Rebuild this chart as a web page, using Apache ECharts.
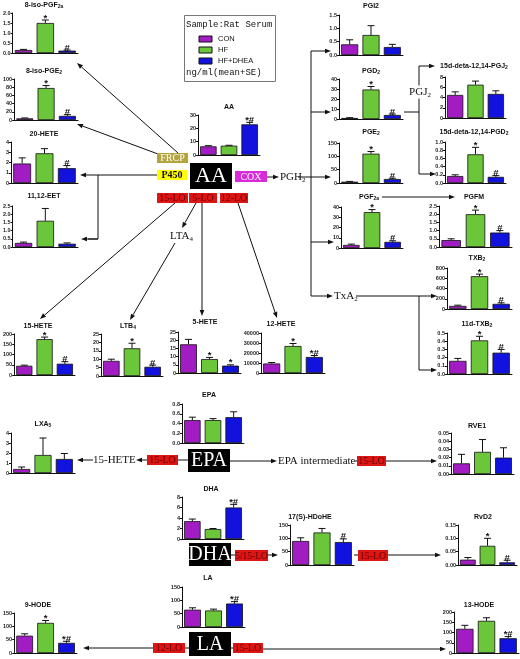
<!DOCTYPE html>
<html><head><meta charset="utf-8">
<script src="https://cdn.jsdelivr.net/npm/echarts@6/dist/echarts.min.js"></script>
<style>html,body{margin:0;padding:0;background:#fff}#c{width:520px;height:659px}</style>
</head><body><div id="c"></div>
<script>
// ---------- DATA ----------
const groups = ['CON', 'HF', 'HF+DHEA'];

const iso8PGF2a_mean = [0.15, 1.50, 0.12], iso8PGF2a_se = [0.03, 0.15, 0.03], iso8PGF2a_sig = ['', '*', '#'];
const iso8PGE2_mean = [4, 78, 10], iso8PGE2_se = [1, 6, 3], iso8PGE2_sig = ['', '*', '#'];
const HETE20_mean = [1.9, 2.9, 1.45], HETE20_se = [0.55, 0.45, 0.25], HETE20_sig = ['', '', '#'];
const EET1112_mean = [0.25, 1.6, 0.2], EET1112_se = [0.05, 0.75, 0.05], EET1112_sig = ['', '', ''];
const AA_mean = [6.5, 7.0, 23], AA_se = [0.5, 0.3, 1.5], AA_sig = ['', '', '*#'];
const PGI2_mean = [0.4, 0.75, 0.3], PGI2_se = [0.17, 0.35, 0.1], PGI2_sig = ['', '', ''];
const PGD2_mean = [1.0, 29.5, 4.0], PGD2_se = [0.3, 3.0, 1.0], PGD2_sig = ['', '*', '#'];
const PGE2_mean = [5, 110, 15], PGE2_se = [1, 8, 3], PGE2_sig = ['', '*', '#'];
const PGF2a_mean = [3, 35, 6], PGF2a_se = [0.8, 2.5, 1], PGF2a_sig = ['', '*', '#'];
const dPGJ2_mean = [4.5, 6.5, 4.7], dPGJ2_se = [0.6, 0.7, 0.6], dPGJ2_sig = ['', '', ''];
const dPGD2_mean = [0.17, 0.70, 0.15], dPGD2_se = [0.03, 0.17, 0.03], dPGD2_sig = ['', '*', '#'];
const PGFM_mean = [0.42, 2.0, 0.88], PGFM_se = [0.08, 0.25, 0.12], PGFM_sig = ['', '*', '#'];
const TXB2_mean = [60, 640, 100], TXB2_se = [15, 40, 20], TXB2_sig = ['', '*', '#'];
const dTXB2_mean = [0.16, 0.41, 0.26], dTXB2_se = [0.03, 0.05, 0.04], dTXB2_sig = ['', '*', '#'];
const HETE15_mean = [45, 175, 55], HETE15_se = [3, 10, 10], HETE15_sig = ['', '*', '#'];
const LTB4_mean = [9, 16.5, 5.5], LTB4_se = [1, 3, 1], LTB4_sig = ['', '*', '#'];
const HETE5_mean = [17.5, 8.5, 4.5], HETE5_se = [3, 1, 0.5], HETE5_sig = ['', '*', '*'];
const HETE12_mean = [9500, 27000, 16000], HETE12_se = [1000, 2500, 1500], HETE12_sig = ['', '*', '*#'];
const EPA_mean = [0.47, 0.47, 0.53], EPA_se = [0.06, 0.03, 0.11], EPA_sig = ['', '', ''];
const LXA5_mean = [0.4, 1.8, 1.4], LXA5_se = [0.2, 1.7, 0.55], LXA5_sig = ['', '', ''];
const RVE1_mean = [0.013, 0.027, 0.020], RVE1_se = [0.011, 0.015, 0.012], RVE1_sig = ['', '', ''];
const DHA_mean = [3.4, 1.9, 6.0], DHA_se = [0.4, 0.1, 0.6], DHA_sig = ['', '', '*#'];
const HDoHE_mean = [90, 122, 86], HDoHE_se = [12, 15, 12], HDoHE_sig = ['', '', '#'];
const RvD2_mean = [0.020, 0.072, 0.010], RvD2_se = [0.008, 0.028, 0.008], RvD2_sig = ['', '*', '#'];
const LA_mean = [65, 62, 88], LA_se = [7, 5, 7], LA_sig = ['', '', '*#'];
const HODE9_mean = [65, 113, 38], HODE9_se = [7, 9, 6], HODE9_sig = ['', '*', '*#'];
const HODE13_mean = [118, 157, 72], HODE13_se = [17, 15, 8], HODE13_sig = ['', '', '*#'];

// ---------- LAYOUT / STYLE ----------
const colors = ['#a21cc4', '#6cc63a', '#1212de'];
const SANS = '"Liberation Sans", Arial, sans-serif';
const SERIF = '"Liberation Serif", "Times New Roman", serif';
const MONO = '"Liberation Mono", "Courier New", monospace';

// box: [axisLeft, axisRight, topY, zeroY]; t: [titleCenterX, titleY]; axis: [max, step, decimals]
const panels = [
  {name: '8-iso-PGF{s|2a}', m: iso8PGF2a_mean, e: iso8PGF2a_se, s: iso8PGF2a_sig, axis: [2, 0.5, 1], box: [11, 78, 13, 53], t: [44, 5]},
  {name: '8-iso-PGE{s|2}', m: iso8PGE2_mean, e: iso8PGE2_se, s: iso8PGE2_sig, axis: [100, 20, 0], box: [11, 78, 79, 120], t: [44, 71]},
  {name: '20-HETE', m: HETE20_mean, e: HETE20_se, s: HETE20_sig, axis: [4, 1, 0], box: [11, 78, 142, 183], t: [44, 134]},
  {name: '11,12-EET', m: EET1112_mean, e: EET1112_se, s: EET1112_sig, axis: [2.5, 0.5, 1], box: [11, 78, 206, 247], t: [44, 196]},
  {name: 'AA', m: AA_mean, e: AA_se, s: AA_sig, axis: [30, 10, 0], box: [198, 260, 115, 155], t: [229, 107]},
  {name: 'PGI2', m: PGI2_mean, e: PGI2_se, s: PGI2_sig, axis: [1.5, 0.5, 1], box: [339, 403, 15, 55], t: [371, 6]},
  {name: 'PGD{s|2}', m: PGD2_mean, e: PGD2_se, s: PGD2_sig, axis: [40, 10, 0], box: [339, 403, 79, 119], t: [371, 71]},
  {name: 'PGE{s|2}', m: PGE2_mean, e: PGE2_se, s: PGE2_sig, axis: [150, 50, 0], box: [339, 403, 143, 183], t: [371, 132]},
  {name: 'PGF{s|2a}', m: PGF2a_mean, e: PGF2a_se, s: PGF2a_sig, axis: [40, 10, 0], box: [341, 403, 207, 248], t: [369, 197]},
  {name: '15d-deta-12,14-PGJ{s|2}', m: dPGJ2_mean, e: dPGJ2_se, s: dPGJ2_sig, axis: [8, 2, 0], box: [445, 506, 77, 118], t: [474, 66]},
  {name: '15d-deta-12,14-PGD{s|2}', m: dPGD2_mean, e: dPGD2_se, s: dPGD2_sig, axis: [1.0, 0.2, 1], box: [445, 506, 142, 183], t: [474, 132]},
  {name: 'PGFM', m: PGFM_mean, e: PGFM_se, s: PGFM_sig, axis: [2.5, 0.5, 1], box: [439, 512, 206, 247], t: [474, 197]},
  {name: 'TXB{s|2}', m: TXB2_mean, e: TXB2_se, s: TXB2_sig, axis: [800, 200, 0], box: [447, 512, 268, 309], t: [477, 258]},
  {name: '11d-TXB{s|2}', m: dTXB2_mean, e: dTXB2_se, s: dTXB2_sig, axis: [0.5, 0.1, 1], box: [447, 512, 333, 374], t: [477, 324]},
  {name: '15-HETE', m: HETE15_mean, e: HETE15_se, s: HETE15_sig, axis: [200, 50, 0], box: [12, 75, 334, 375], t: [38, 326]},
  {name: 'LTB{s|4}', m: LTB4_mean, e: LTB4_se, s: LTB4_sig, axis: [25, 5, 0], box: [101, 163, 334, 376], t: [128, 326]},
  {name: '5-HETE', m: HETE5_mean, e: HETE5_se, s: HETE5_sig, axis: [25, 5, 0], box: [178, 241, 332, 373], t: [205, 322]},
  {name: '12-HETE', m: HETE12_mean, e: HETE12_se, s: HETE12_sig, axis: [40000, 10000, 0], box: [261, 325, 333, 373], t: [281, 324]},
  {name: 'EPA', m: EPA_mean, e: EPA_se, s: EPA_sig, axis: [0.8, 0.2, 1], box: [182, 244, 404, 443], t: [209, 395]},
  {name: 'LXA{s|5}', m: LXA5_mean, e: LXA5_se, s: LXA5_sig, axis: [4, 1, 0], box: [11, 75, 433, 473], t: [43, 424]},
  {name: 'RVE1', m: RVE1_mean, e: RVE1_se, s: RVE1_sig, axis: [0.05, 0.01, 2], box: [451, 514, 433, 474], t: [477, 426]},
  {name: 'DHA', m: DHA_mean, e: DHA_se, s: DHA_sig, axis: [8, 2, 0], box: [182, 244, 497, 539], t: [211, 489]},
  {name: '17(S)-HDoHE', m: HDoHE_mean, e: HDoHE_se, s: HDoHE_sig, axis: [150, 50, 0], box: [290, 354, 525, 565], t: [310, 517]},
  {name: 'RvD2', m: RvD2_mean, e: RvD2_se, s: RvD2_sig, axis: [0.15, 0.05, 2], box: [458, 517, 525, 565], t: [483, 517]},
  {name: 'LA', m: LA_mean, e: LA_se, s: LA_sig, axis: [150, 50, 0], box: [182, 245, 587, 627], t: [208, 578]},
  {name: '9-HODE', m: HODE9_mean, e: HODE9_se, s: HODE9_sig, axis: [150, 50, 0], box: [13, 77, 613, 653], t: [38, 605]},
  {name: '13-HODE', m: HODE13_mean, e: HODE13_se, s: HODE13_sig, axis: [200, 50, 0], box: [454, 519, 612, 653], t: [479, 605]}
];

const grid = [], xAxis = [], yAxis = [], series = [], elements = [];
const SUB = {s: {fontSize: 5, fontWeight: 'bold', fontFamily: SANS, fill: '#111', padding: [4, 0, 0, 0]}};

panels.forEach((p, i) => {
  const [x0, x1, yt, yb] = p.box;
  const [mx, step, dec] = p.axis;
  grid.push({left: x0, top: yt, width: x1 - x0, height: yb - yt});
  xAxis.push({
    type: 'category', gridIndex: i, data: groups,
    axisLine: {lineStyle: {color: '#111', width: 1}},
    axisTick: {length: 2, alignWithLabel: true, lineStyle: {color: '#111'}},
    axisLabel: {show: false}
  });
  yAxis.push({
    type: 'value', gridIndex: i, min: 0, max: mx, interval: step,
    axisLine: {show: true, lineStyle: {color: '#111', width: 1}},
    axisTick: {show: true, length: 2, lineStyle: {color: '#111'}},
    splitLine: {show: false},
    axisLabel: {fontSize: 5.5, margin: 2, color: '#222', fontWeight: 'bold', fontFamily: SANS,
      formatter: v => v.toFixed(dec)}
  });
  series.push({
    type: 'bar', xAxisIndex: i, yAxisIndex: i, barWidth: '80%', animation: false, silent: true,
    itemStyle: {borderColor: '#111', borderWidth: 0.8},
    data: p.m.map((v, k) => ({value: v, itemStyle: {color: colors[k]}}))
  });
  series.push({
    type: 'custom', xAxisIndex: i, yAxisIndex: i, animation: false, silent: true, clip: false,
    data: p.m.map((v, k) => [k, v, v + p.e[k]]),
    renderItem: (params, api) => {
      const k = api.value(0);
      const lo = api.coord([k, api.value(1)]);
      const hi = api.coord([k, api.value(2)]);
      const ch = [
        {type: 'line', shape: {x1: lo[0], y1: lo[1], x2: hi[0], y2: hi[1]}, style: {stroke: '#111', lineWidth: 1}},
        {type: 'line', shape: {x1: hi[0] - 3.5, y1: hi[1], x2: hi[0] + 3.5, y2: hi[1]}, style: {stroke: '#111', lineWidth: 1}}
      ];
      const sg = p.s[k];
      if (sg) ch.push({type: 'text', x: hi[0], y: hi[1] + 3,
        style: {text: sg, align: 'center', verticalAlign: 'bottom', fontSize: 9.5, fontWeight: 'bold', fontFamily: SANS, fill: '#111'}});
      return {type: 'group', children: ch};
    }
  });
  elements.push({type: 'text', x: p.t[0], y: p.t[1], silent: true,
    style: {text: p.name, rich: SUB, align: 'center', verticalAlign: 'middle', fontSize: 7, fontWeight: 'bold', fontFamily: SANS, fill: '#111'}});
});

// ---------- diagram helpers ----------
function line(pts) {
  return {type: 'polyline', silent: true, shape: {points: pts}, style: {stroke: '#111', lineWidth: 1, fill: null}};
}
function arrow(x1, y1, x2, y2) {
  const a = Math.atan2(y2 - y1, x2 - x1), L = 6, W = 2.3;
  const bx = x2 - L * Math.cos(a), by = y2 - L * Math.sin(a);
  const px = -Math.sin(a) * W, py = Math.cos(a) * W;
  return [
    {type: 'line', silent: true, shape: {x1, y1, x2: bx, y2: by}, style: {stroke: '#111', lineWidth: 1}},
    {type: 'polygon', silent: true, shape: {points: [[x2, y2], [bx + px, by + py], [bx - px, by - py]]}, style: {fill: '#111'}}
  ];
}
function box(x, y, w, h, fill, text, color, size, bold) {
  return [
    {type: 'rect', silent: true, shape: {x, y, width: w, height: h}, style: {fill}},
    {type: 'text', silent: true, x: x + w / 2, y: y + h / 2 + 0.5,
      style: {text, align: 'center', verticalAlign: 'middle', fontSize: size, fontFamily: SERIF, fontWeight: bold ? 'bold' : 'normal', fill: color}}
  ];
}
function label(x, y, text, align, bg) {
  return {type: 'text', silent: true, x, y, z: 10,
    style: {text, align: align || 'left', verticalAlign: 'middle', fontSize: 11, fontFamily: SERIF, fill: '#111',
      backgroundColor: bg || null,
      rich: {s: {fontSize: 7, fontFamily: SERIF, fill: '#111', padding: [6, 0, 0, 0]}}}};
}
const RED = '#dd1515', REDTXT = '#6a0505';

// ---------- AA hub ----------
elements.push(...arrow(178, 153, 77, 63));
elements.push(...arrow(158, 154, 77, 124));
elements.push(...arrow(157, 175, 80, 175));
elements.push(line([[98, 175], [98, 239], [88, 239]]));
elements.push(...arrow(98, 239, 81, 239));
elements.push(...arrow(175, 203, 40, 319));
elements.push(...arrow(196, 203, 182, 228));
elements.push(...arrow(175, 243, 130, 320));
elements.push(...arrow(202, 203, 202, 316));
elements.push(...arrow(238, 203, 277, 318));
elements.push(...box(157, 153, 31, 10, '#b3a43e', 'FRCP', '#fff', 10));
elements.push(...box(157, 170, 30, 10, '#ffff00', 'P450', '#111', 10, true));
elements.push(...box(190, 163, 42, 26, '#000', 'AA', '#fff', 22));
elements.push(...box(235, 171, 32, 11, '#d92bd9', 'COX', '#fff', 10));
elements.push(...box(157, 193, 31, 10, RED, '15-LO', REDTXT, 10));
elements.push(...box(189, 193, 28, 10, RED, '5-LO', REDTXT, 10));
elements.push(...box(220, 193, 28, 10, RED, '12-LO', REDTXT, 10));
elements.push(label(170, 236, 'LTA{s|4}'));

// COX branch
elements.push(...arrow(267, 177, 279, 177));
elements.push(label(280, 177, 'PGH{s|2}'));
elements.push(line([[298, 177], [311, 177]]));
elements.push(line([[311, 51], [311, 296]]));
elements.push(...arrow(311, 51, 331, 51));
elements.push(...arrow(311, 112, 331, 112));
elements.push(...arrow(311, 177, 331, 177));
elements.push(...arrow(311, 242, 334, 242));
elements.push(...arrow(311, 296, 333, 296));
elements.push(label(334, 296, 'TxA{s|2}'));
elements.push(line([[404, 112], [419, 112]]));
elements.push(line([[419, 66], [419, 174]]));
elements.push(...arrow(419, 66, 435, 66));
elements.push(...arrow(419, 174, 436, 174));
elements.push(label(420, 92, 'PGJ{s|2}', 'center', '#fff'));
elements.push(...arrow(382, 197, 455, 197));
elements.push(...arrow(356, 296, 437, 296));
elements.push(line([[419, 296], [419, 370]]));
elements.push(...arrow(419, 370, 437, 370));

// ---------- EPA ----------
elements.push(line([[178, 460], [188, 460]]));
elements.push(...arrow(147, 460, 136, 460));
elements.push(label(93, 460, '15-HETE'));
elements.push(...arrow(93, 460, 77, 460));
elements.push(...box(188, 449, 42, 23, '#000', 'EPA', '#fff', 20));
elements.push(...box(147, 455, 31, 10, RED, '15-LO', REDTXT, 10));
elements.push(...arrow(230, 461, 277, 461));
elements.push(label(278, 461, 'EPA intermediate'));
elements.push(line([[355, 461], [358, 461]]));
elements.push(...box(357, 456, 29, 10, RED, '15-LO', REDTXT, 10));
elements.push(...arrow(386, 461, 437, 461));

// ---------- DHA ----------
elements.push(line([[231, 555], [235, 555]]));
elements.push(...box(189, 543, 42, 23, '#000', 'DHA', '#fff', 20));
elements.push(...box(235, 550, 33, 11, RED, '5/15-LO', REDTXT, 9.5));
elements.push(...arrow(268, 555, 278, 555));
elements.push(line([[354, 555], [358, 555]]));
elements.push(...box(358, 550, 30, 11, RED, '15-LO', REDTXT, 10));
elements.push(...arrow(388, 555, 441, 555));

// ---------- LA ----------
elements.push(line([[185, 648], [189, 648]]));
elements.push(line([[231, 648], [233, 648]]));
elements.push(...box(189, 632, 42, 24, '#000', 'LA', '#fff', 20));
elements.push(...box(153, 643, 32, 10, RED, '12-LO', REDTXT, 10));
elements.push(...box(233, 643, 30, 10, RED, '15-LO', REDTXT, 10));
elements.push(...arrow(153, 648, 83, 648));
elements.push(...arrow(263, 649, 446, 649));

// ---------- legend ----------
elements.push({type: 'rect', silent: true, shape: {x: 184.5, y: 15.5, width: 91, height: 66}, style: {fill: '#fff', stroke: '#777', lineWidth: 1}});
elements.push({type: 'text', silent: true, x: 186, y: 25, style: {text: 'Sample:Rat Serum', verticalAlign: 'middle', fontSize: 9, fontFamily: MONO, fill: '#111'}});
groups.forEach((g, k) => {
  const y = 39 + k * 11;
  elements.push({type: 'rect', silent: true, shape: {x: 199, y: y - 3, width: 13, height: 6}, style: {fill: colors[k], stroke: '#111', lineWidth: 1}});
  elements.push({type: 'text', silent: true, x: 218, y: y, style: {text: g, verticalAlign: 'middle', fontSize: 7.5, fontFamily: SANS, fill: '#111'}});
});
elements.push({type: 'text', silent: true, x: 186, y: 73, style: {text: 'ng/ml(mean+SE)', verticalAlign: 'middle', fontSize: 9, fontFamily: MONO, fill: '#111'}});

const chart = echarts.init(document.getElementById('c'), null, {renderer: 'canvas'});
chart.setOption({
  animation: false,
  backgroundColor: '#fff',
  grid, xAxis, yAxis, series,
  graphic: {elements}
});
</script></body></html>
